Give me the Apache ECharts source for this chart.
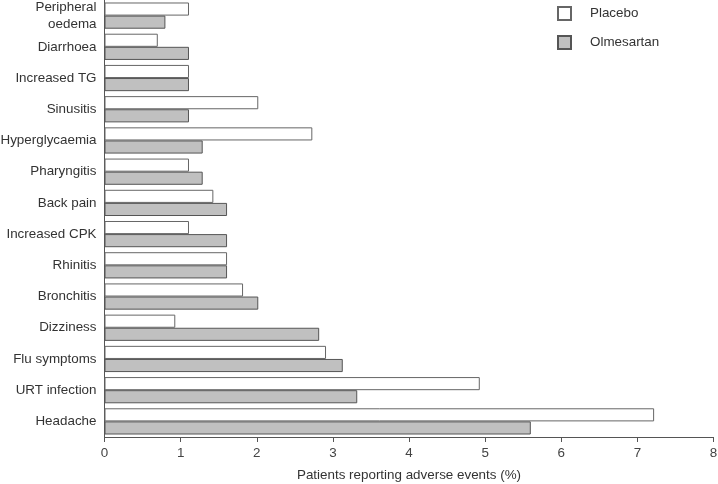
<!DOCTYPE html>
<html><head><meta charset="utf-8">
<script src="https://cdn.jsdelivr.net/npm/echarts@6/dist/echarts.min.js"></script>
<style>html,body{margin:0;padding:0;background:#fff}#c{width:718px;height:484px}</style>
</head><body><div id="c"></div>
<script>
const categories = ["Peripheral\noedema","Diarrhoea","Increased TG","Sinusitis","Hyperglycaemia","Pharyngitis","Back pain","Increased CPK","Rhinitis","Bronchitis","Dizziness","Flu symptoms","URT infection","Headache"];
const placebo =    [1.11,0.70,1.11,2.02,2.73,1.11,1.43,1.11,1.61,1.82,0.93,2.91,4.93,7.22];
const olmesartan = [0.80,1.11,1.11,1.11,1.29,1.29,1.61,1.61,1.61,2.02,2.82,3.13,3.32,5.60];
const xTicks = [0,1,2,3,4,5,6,7,8];

const font = 'Liberation Sans, Arial, sans-serif';
const fs = 13.4;
const chart = echarts.init(document.getElementById('c'), null, {renderer:'canvas'});
chart.setOption({
  animation:false,
  backgroundColor:'#fff',
  grid:{left:104.5, right:4.5, top:0, bottom:47, containLabel:false, outerBoundsMode:'none'},
  legend:{
    orient:'vertical', left:552, top:1, itemWidth:13, itemHeight:13, itemGap:14,
    icon:'rect',
    textStyle:{fontFamily:font, fontSize:fs, color:'#333', padding:[0,0,0,14]},
    data:['Placebo','Olmesartan']
  },
  xAxis:{
    type:'value', min:xTicks[0], max:xTicks[xTicks.length-1], interval:1,
    name:'Patients reporting adverse events (%)', nameLocation:'middle', nameGap:32,
    nameTextStyle:{fontFamily:font, fontSize:fs, color:'#333'},
    axisLine:{show:true, lineStyle:{color:'#555', width:1}},
    axisTick:{show:true, length:5, lineStyle:{color:'#555'}},
    axisLabel:{fontFamily:font, fontSize:fs, color:'#444', margin:10},
    splitLine:{show:false}
  },
  yAxis:{
    type:'category', inverse:true, data:categories,
    axisLine:{show:true, lineStyle:{color:'#555', width:1}},
    axisTick:{show:false},
    axisLabel:{fontFamily:font, fontSize:fs, color:'#333', margin:8, lineHeight:17}
  },
  series:[
    {name:'Placebo', type:'bar', data:placebo, barGap:'0%', barCategoryGap:'16%',
     itemStyle:{color:'#ffffff', borderColor:'#666', borderWidth:1}},
    {name:'Olmesartan', type:'bar', data:olmesartan, barGap:'0%', barCategoryGap:'16%',
     itemStyle:{color:'#c0c0c0', borderColor:'#555', borderWidth:1}}
  ]
});
</script></body></html>
